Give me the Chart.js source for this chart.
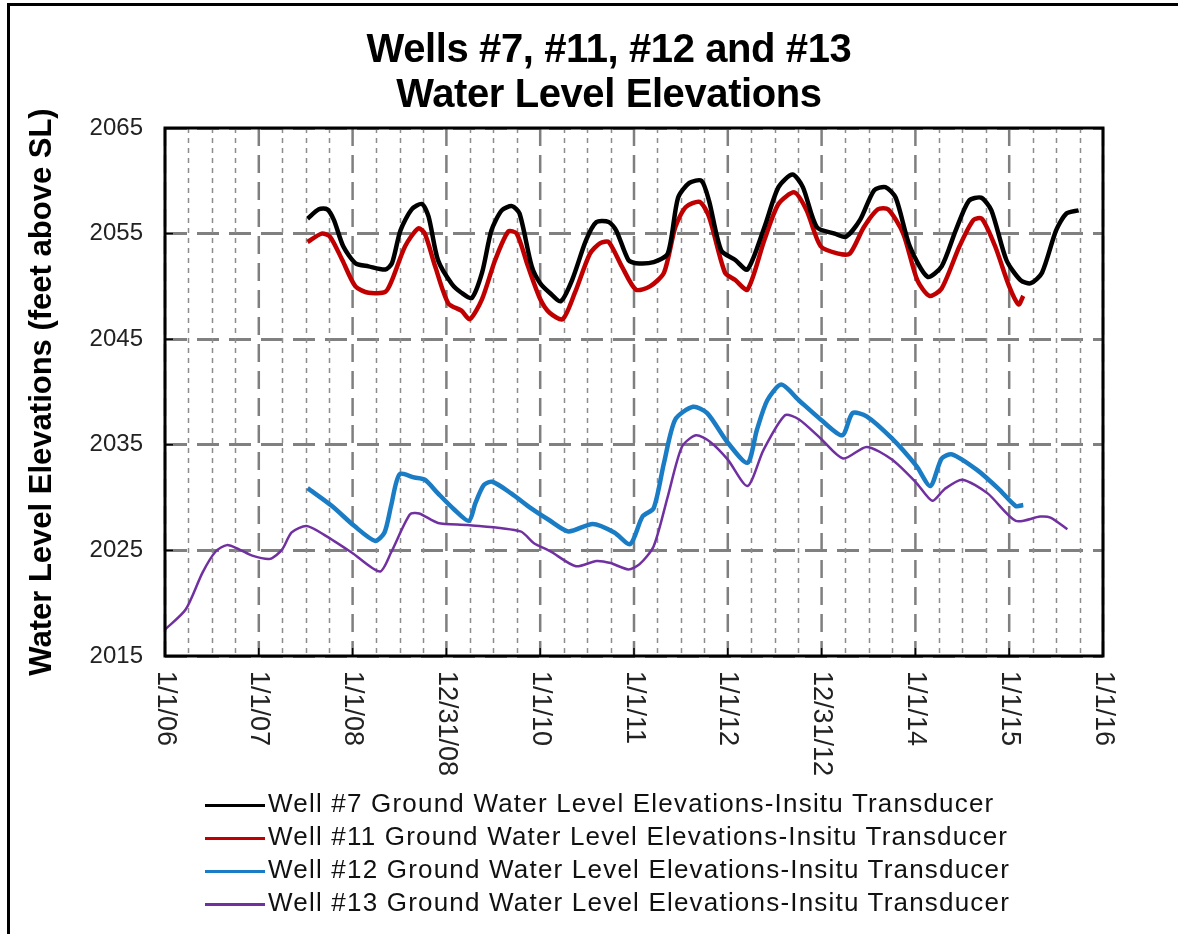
<!DOCTYPE html>
<html>
<head>
<meta charset="utf-8">
<script src="https://cdn.jsdelivr.net/npm/chart.js@4.4.0/dist/chart.umd.min.js"></script>
<style>
  html, body { margin: 0; padding: 0; background: #fff; }
  #wrap { position: relative; width: 1178px; height: 934px; overflow: hidden; font-family: "Liberation Sans", Arial, sans-serif; }
  #frame { position: absolute; left: 7px; top: 3px; right: -5px; bottom: -5px; border-left: 3px solid #000; border-top: 3px solid #000; }
  #chart { position: absolute; left: 0; top: 0; }
  .title { position: absolute; left: 0; width: 1218px; text-align: center; font-weight: bold; font-size: 40px; line-height: 44px; color: #000; letter-spacing: -0.4px; }
  .legend { position: absolute; left: 205px; top: 787px; font-size: 26px; color: #111; letter-spacing: 1.2px; }
  .legend-row { height: 33px; line-height: 33px; white-space: nowrap; }
  .legend-row span { display: inline-block; width: 60px; height: 3px; vertical-align: middle; margin-right: 3px; }
</style>
</head>
<body>
<div id="wrap">
  <div id="frame"></div>
  <canvas id="chart" width="1178" height="934"></canvas>
  <div class="title" style="top:26px">Wells #7, #11, #12 and #13</div>
  <div class="title" style="top:71px">Water Level Elevations</div>
  <div class="legend" id="legend"></div>
</div>
<script>
// Axis ticks
    const xTickYears = [2006, 2007, 2008, 2009, 2010, 2011, 2012, 2013, 2014, 2015, 2016];
    const xTickLabels = ['1/1/06', '1/1/07', '1/1/08', '12/31/08', '1/1/10', '1/1/11', '1/1/12', '12/31/12', '1/1/14', '1/1/15', '1/1/16'];
    const yTicks = [2015, 2025, 2035, 2045, 2055, 2065];

// Well #7 (decimal year / feet)
    const well7Years = [2007.52, 2007.64, 2007.73, 2007.80, 2007.90, 2008.03, 2008.17, 2008.35, 2008.42, 2008.51, 2008.63, 2008.74, 2008.81, 2008.91, 2009.06, 2009.16, 2009.27, 2009.38, 2009.48, 2009.59, 2009.70, 2009.78, 2009.91, 2010.00, 2010.10, 2010.22, 2010.34, 2010.49, 2010.60, 2010.73, 2010.81, 2010.94, 2011.02, 2011.21, 2011.36, 2011.47, 2011.59, 2011.72, 2011.80, 2011.93, 2012.08, 2012.21, 2012.39, 2012.54, 2012.69, 2012.80, 2012.95, 2013.14, 2013.26, 2013.41, 2013.56, 2013.68, 2013.79, 2013.94, 2014.13, 2014.28, 2014.43, 2014.57, 2014.70, 2014.81, 2014.97, 2015.12, 2015.23, 2015.35, 2015.50, 2015.61, 2015.74];
    const well7Levels = [2056.4, 2057.3, 2057.3, 2056.3, 2053.8, 2052.2, 2051.9, 2051.6, 2052.2, 2055.3, 2057.3, 2057.8, 2056.6, 2052.5, 2050.2, 2049.4, 2048.9, 2051.3, 2055.3, 2057.2, 2057.6, 2056.9, 2051.9, 2050.3, 2049.4, 2048.6, 2050.6, 2054.4, 2056.1, 2056.1, 2055.3, 2052.5, 2052.2, 2052.3, 2053.1, 2058.4, 2059.8, 2060.0, 2058.1, 2053.4, 2052.5, 2051.6, 2055.6, 2059.4, 2060.6, 2059.4, 2055.6, 2055.0, 2054.7, 2056.3, 2059.1, 2059.4, 2058.4, 2053.8, 2050.9, 2051.9, 2055.3, 2058.1, 2058.4, 2057.2, 2052.5, 2050.6, 2050.3, 2051.3, 2055.3, 2056.9, 2057.2];

// Well #11
    const well11Years = [2007.52, 2007.67, 2007.76, 2007.89, 2008.03, 2008.17, 2008.35, 2008.42, 2008.56, 2008.70, 2008.77, 2008.88, 2009.02, 2009.16, 2009.25, 2009.38, 2009.52, 2009.66, 2009.75, 2009.87, 2010.00, 2010.10, 2010.24, 2010.37, 2010.53, 2010.64, 2010.73, 2010.87, 2011.02, 2011.17, 2011.32, 2011.44, 2011.55, 2011.70, 2011.80, 2011.97, 2012.08, 2012.21, 2012.39, 2012.54, 2012.71, 2012.84, 2012.99, 2013.18, 2013.30, 2013.45, 2013.60, 2013.71, 2013.87, 2014.02, 2014.15, 2014.28, 2014.47, 2014.62, 2014.71, 2014.85, 2015.00, 2015.10, 2015.15];
    const well11Levels = [2054.2, 2055.0, 2054.7, 2052.5, 2050.0, 2049.4, 2049.5, 2050.6, 2053.8, 2055.5, 2055.0, 2051.9, 2048.4, 2047.7, 2046.9, 2048.8, 2052.5, 2055.2, 2055.0, 2051.9, 2048.8, 2047.5, 2046.9, 2049.4, 2053.1, 2054.1, 2054.2, 2051.9, 2049.7, 2050.0, 2051.3, 2055.6, 2057.5, 2058.0, 2056.6, 2051.3, 2050.6, 2049.7, 2054.4, 2057.8, 2058.9, 2057.2, 2053.8, 2053.1, 2053.1, 2055.6, 2057.3, 2057.3, 2055.0, 2050.6, 2049.1, 2049.8, 2053.8, 2056.3, 2056.4, 2053.8, 2050.0, 2048.3, 2049.1];

// Well #12
    const well12Years = [2007.52, 2007.78, 2008.02, 2008.24, 2008.34, 2008.41, 2008.50, 2008.66, 2008.77, 2008.91, 2009.08, 2009.24, 2009.31, 2009.40, 2009.49, 2009.69, 2009.90, 2010.09, 2010.30, 2010.56, 2010.79, 2010.96, 2011.09, 2011.21, 2011.32, 2011.44, 2011.63, 2011.78, 2012.00, 2012.21, 2012.31, 2012.42, 2012.57, 2012.76, 2012.99, 2013.22, 2013.33, 2013.48, 2013.75, 2014.01, 2014.16, 2014.28, 2014.39, 2014.66, 2014.89, 2015.07, 2015.15];
    const well12Levels = [2030.9, 2029.2, 2027.3, 2025.9, 2026.7, 2029.2, 2032.2, 2031.9, 2031.7, 2030.4, 2028.9, 2027.8, 2029.5, 2031.2, 2031.5, 2030.4, 2029.0, 2027.9, 2026.8, 2027.5, 2026.7, 2025.6, 2028.2, 2029.0, 2033.3, 2037.4, 2038.6, 2038.0, 2035.2, 2033.3, 2036.4, 2039.2, 2040.7, 2039.2, 2037.4, 2035.9, 2038.0, 2037.7, 2035.6, 2033.0, 2031.1, 2033.7, 2034.1, 2032.6, 2030.8, 2029.2, 2029.3];

// Well #13
    const well13Years = [2006.00, 2006.22, 2006.40, 2006.54, 2006.66, 2006.79, 2006.93, 2007.12, 2007.25, 2007.35, 2007.51, 2007.71, 2007.99, 2008.29, 2008.41, 2008.61, 2008.71, 2008.91, 2009.23, 2009.79, 2009.93, 2010.11, 2010.38, 2010.60, 2010.75, 2010.94, 2011.06, 2011.21, 2011.36, 2011.51, 2011.66, 2011.81, 2012.00, 2012.21, 2012.38, 2012.61, 2012.76, 2012.99, 2013.23, 2013.48, 2013.75, 2014.01, 2014.18, 2014.31, 2014.50, 2014.77, 2015.07, 2015.33, 2015.44, 2015.62];
    const well13Levels = [2017.5, 2019.4, 2022.9, 2024.9, 2025.5, 2025.1, 2024.5, 2024.2, 2025.1, 2026.7, 2027.3, 2026.4, 2024.8, 2023.0, 2024.8, 2028.4, 2028.5, 2027.6, 2027.4, 2026.8, 2025.7, 2024.9, 2023.5, 2024.0, 2023.8, 2023.2, 2023.7, 2025.4, 2030.1, 2034.8, 2035.9, 2035.3, 2033.6, 2031.1, 2034.5, 2037.8, 2037.4, 2035.6, 2033.7, 2034.8, 2033.6, 2031.4, 2029.7, 2030.8, 2031.7, 2030.4, 2027.8, 2028.2, 2028.1, 2027.0];

    const seriesNames = [
        'Well #7 Ground Water Level Elevations-Insitu Transducer',
        'Well #11 Ground Water Level Elevations-Insitu Transducer',
        'Well #12 Ground Water Level Elevations-Insitu Transducer',
        'Well #13 Ground Water Level Elevations-Insitu Transducer'
    ];
    const seriesColors = ['#000000', '#c00000', '#1a7cc4', '#7030a0'];

    function toPoints(xs, ys) {
        return xs.map((x, i) => ({ x: x, y: ys[i] }));
    }

    const lineStyle = (color, width) => ({
        borderColor: color,
        backgroundColor: color,
        borderWidth: width,
        pointRadius: 0,
        tension: 0.25,
        fill: false
    });

// Gridlines, frame and rotated date labels
    const plotDecor = {
        id: 'plotDecor',
        beforeDatasetsDraw(chart) {
            const { ctx, chartArea: a, scales: { x } } = chart;
            ctx.save();
            // quarterly lines
            ctx.strokeStyle = '#8c8c8c';
            ctx.lineWidth = 1.5;
            ctx.setLineDash([5, 5]);
            for (let yr = xTickYears[0]; yr < xTickYears[xTickYears.length - 1]; yr++) {
                for (let q = 1; q < 4; q++) {
                    const px = Math.round(x.getPixelForValue(yr + q / 4)) + 0.5;
                    ctx.beginPath();
                    ctx.moveTo(px, a.top);
                    ctx.lineTo(px, a.bottom);
                    ctx.stroke();
                }
            }
            // yearly lines
            ctx.strokeStyle = '#7f7f7f';
            ctx.lineWidth = 2.5;
            ctx.setLineDash([18, 9]);
            xTickYears.forEach(yr => {
                const px = x.getPixelForValue(yr);
                ctx.beginPath();
                ctx.moveTo(px, a.top);
                ctx.lineTo(px, a.bottom);
                ctx.stroke();
            });
            ctx.restore();
        },
        afterDatasetsDraw(chart) {
            const { ctx, chartArea: a, scales: { x, y } } = chart;
            ctx.save();
            ctx.strokeStyle = '#000';
            ctx.lineWidth = 1.5;
            yTicks.forEach(v => {
                const py = y.getPixelForValue(v);
                ctx.beginPath();
                ctx.moveTo(a.left, py);
                ctx.lineTo(a.left + 8, py);
                ctx.stroke();
            });
            xTickYears.forEach(yr => {
                const px = x.getPixelForValue(yr);
                ctx.beginPath();
                ctx.moveTo(px, a.bottom);
                ctx.lineTo(px, a.bottom - 8);
                ctx.stroke();
            });
            ctx.lineWidth = 3;
            ctx.strokeRect(a.left, a.top, a.right - a.left, a.bottom - a.top);
            ctx.restore();
        },
        afterDraw(chart) {
            const { ctx, chartArea: a, scales: { x } } = chart;
            ctx.save();
            ctx.fillStyle = '#222';
            ctx.font = '27px "Liberation Sans", Arial, sans-serif';
            ctx.textAlign = 'left';
            ctx.textBaseline = 'middle';
            xTickYears.forEach((yr, i) => {
                ctx.save();
                ctx.translate(x.getPixelForValue(yr), a.bottom + 15);
                ctx.rotate(Math.PI / 2);
                ctx.fillText(xTickLabels[i], 0, 0);
                ctx.restore();
            });
            ctx.restore();
        }
    };

// setup
    const data = {
        datasets: [
            Object.assign({ label: seriesNames[0], data: toPoints(well7Years, well7Levels) }, lineStyle(seriesColors[0], 4.5)),
            Object.assign({ label: seriesNames[1], data: toPoints(well11Years, well11Levels) }, lineStyle(seriesColors[1], 4.5)),
            Object.assign({ label: seriesNames[2], data: toPoints(well12Years, well12Levels) }, lineStyle(seriesColors[2], 4.5)),
            Object.assign({ label: seriesNames[3], data: toPoints(well13Years, well13Levels) }, lineStyle(seriesColors[3], 2.5))
        ]
    };

// config
    const config = {
        type: 'line',
        data,
        options: {
            responsive: false,
            animation: false,
            layout: { padding: { left: 24, right: 75, top: 128, bottom: 0 } },
            plugins: {
                legend: { display: false },
                title: { display: false },
                tooltip: { enabled: false }
            },
            scales: {
                x: {
                    type: 'linear',
                    min: xTickYears[0],
                    max: xTickYears[xTickYears.length - 1],
                    ticks: { display: false },
                    grid: { display: false },
                    border: { display: false },
                    afterFit: (scale) => { scale.height = 278; }
                },
                y: {
                    min: yTicks[0],
                    max: yTicks[yTicks.length - 1],
                    ticks: {
                        stepSize: 10,
                        padding: 22,
                        color: '#222',
                        font: { family: '"Liberation Sans", Arial, sans-serif', size: 24 },
                        callback: (v) => String(v)
                    },
                    grid: { color: '#808080', lineWidth: 3, drawTicks: false },
                    border: { display: false, dash: [22, 10] },
                    title: {
                        display: true,
                        text: 'Water Level Elevations (feet above SL)',
                        color: '#000',
                        padding: 0,
                        font: { family: '"Liberation Sans", Arial, sans-serif', size: 31, weight: 'bold' }
                    },
                    afterFit: (scale) => { scale.width = 141; }
                }
            }
        },
        plugins: [plotDecor]
    };

// render
    const myChart = new Chart(document.getElementById('chart'), config);

// HTML legend
    const legendBox = document.getElementById('legend');
    seriesNames.forEach((name, i) => {
        const row = document.createElement('div');
        row.className = 'legend-row';
        row.innerHTML = '<span style="background:' + seriesColors[i] + '"></span>' + name;
        legendBox.appendChild(row);
    });
</script>
</body>
</html>
